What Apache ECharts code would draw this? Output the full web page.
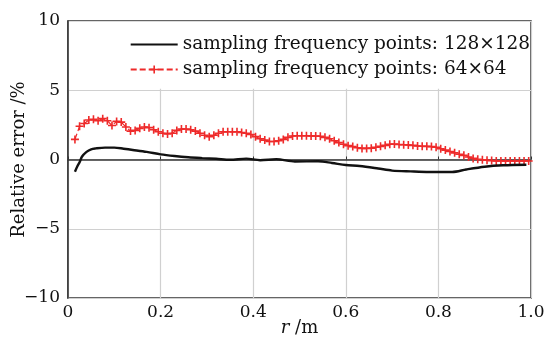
<!DOCTYPE html>
<html>
<head>
<meta charset="utf-8">
<script src="https://cdn.jsdelivr.net/npm/echarts@6/dist/echarts.min.js"></script>
<style>
  html, body { margin: 0; padding: 0; background: #fff; }
  #chart { width: 544px; height: 340px; }
</style>
</head>
<body>
<div id="chart"></div>
<script>
const seriesNames = ["sampling frequency points: 128×128", "sampling frequency points: 64×64"];

// 128x128 curve
const rBlack = [0.015, 0.02, 0.025, 0.03, 0.04, 0.05, 0.06, 0.08, 0.1, 0.12, 0.14, 0.17, 0.2, 0.23, 0.26, 0.29, 0.32, 0.35, 0.385, 0.415, 0.45, 0.49, 0.54, 0.57, 0.6, 0.63, 0.67, 0.7, 0.74, 0.78, 0.83, 0.86, 0.9, 0.94, 0.99];
const errBlack = [-0.88, -0.5, -0.2, 0.2, 0.55, 0.74, 0.8, 0.86, 0.86, 0.78, 0.69, 0.55, 0.37, 0.25, 0.16, 0.1, 0.05, -0.02, 0.06, -0.05, 0.02, -0.14, -0.13, -0.25, -0.4, -0.47, -0.65, -0.8, -0.86, -0.9, -0.9, -0.72, -0.52, -0.42, -0.38];

// 64x64 curve, one marker every 0.01 m
const rRed = [0.015, 0.025, 0.035, 0.045, 0.055, 0.065, 0.075, 0.085, 0.095, 0.105, 0.115, 0.125, 0.135, 0.145, 0.155, 0.165, 0.175, 0.185, 0.195, 0.205, 0.215, 0.225, 0.235, 0.245, 0.255, 0.265, 0.275, 0.285, 0.295, 0.305, 0.315, 0.325, 0.335, 0.345, 0.355, 0.365, 0.375, 0.385, 0.395, 0.405, 0.415, 0.425, 0.435, 0.445, 0.455, 0.465, 0.475, 0.485, 0.495, 0.505, 0.515, 0.525, 0.535, 0.545, 0.555, 0.565, 0.575, 0.585, 0.595, 0.605, 0.615, 0.625, 0.635, 0.645, 0.655, 0.665, 0.675, 0.685, 0.695, 0.705, 0.715, 0.725, 0.735, 0.745, 0.755, 0.765, 0.775, 0.785, 0.795, 0.805, 0.815, 0.825, 0.835, 0.845, 0.855, 0.865, 0.875, 0.885, 0.895, 0.905, 0.915, 0.925, 0.935, 0.945, 0.955, 0.965, 0.975, 0.985, 0.995];
const errRed = [1.45, 2.4, 2.6, 2.85, 2.9, 2.8, 2.95, 2.8, 2.45, 2.75, 2.7, 2.35, 2.05, 2.1, 2.25, 2.35, 2.3, 2.15, 2.0, 1.9, 1.85, 1.9, 2.1, 2.2, 2.2, 2.15, 2.05, 1.9, 1.75, 1.65, 1.75, 1.9, 2.0, 2.0, 2.0, 2.0, 1.95, 1.9, 1.8, 1.65, 1.5, 1.4, 1.3, 1.3, 1.35, 1.45, 1.6, 1.7, 1.72, 1.72, 1.72, 1.7, 1.7, 1.68, 1.6, 1.5, 1.35, 1.22, 1.1, 1.0, 0.93, 0.85, 0.8, 0.8, 0.82, 0.88, 0.95, 1.02, 1.1, 1.12, 1.08, 1.06, 1.05, 1.02, 0.98, 0.96, 0.95, 0.93, 0.88, 0.78, 0.68, 0.58, 0.48, 0.38, 0.3, 0.18, 0.08, 0.02, -0.02, -0.05, -0.08, -0.1, -0.11, -0.11, -0.11, -0.11, -0.11, -0.11, -0.11];

const xTicks = [0, 0.2, 0.4, 0.6, 0.8, 1.0];
const yTicks = [-10, -5, 0, 5, 10];

const serif = "'DejaVu Serif', 'Liberation Serif', serif";
const plus = "path://M4,0H6V4H10V6H6V10H4V6H0V4H4Z";

const chart = echarts.init(document.getElementById("chart"));
chart.setOption({
  animation: false,
  textStyle: { fontFamily: serif },
  grid: {
    left: 68, right: 13, top: 21, bottom: 42,
    outerBoundsMode: "none", containLabel: false,
    show: true, borderColor: "#333", borderWidth: 1.5
  },
  legend: {
    orient: "vertical",
    right: 12,
    top: 33,
    itemWidth: 47,
    itemHeight: 10,
    itemGap: 6,
    padding: [2, 2, 6, 4],
    textStyle: { fontFamily: serif, fontSize: 18.5, color: "#111" },
    data: [{ name: seriesNames[0], itemStyle: { opacity: 0 } }, { name: seriesNames[1] }]
  },
  xAxis: {
    type: "value",
    min: 0,
    max: 1,
    interval: 0.2,
    name: "{i|r} /m",
    nameLocation: "middle",
    nameGap: 21,
    nameMoveOverlap: false,
    nameTextStyle: {
      fontSize: 18, color: "#111",
      rich: { i: { fontStyle: "italic", fontSize: 18, fontFamily: serif, color: "#111" } }
    },
    axisLine: { lineStyle: { color: "#333", width: 1.5 } },
    axisTick: { inside: true, length: 3, lineStyle: { color: "#333" } },
    axisLabel: {
      fontSize: 17, color: "#111", margin: 6,
      formatter: (v) => (xTicks.includes(+v.toFixed(1)) ? (v === 0 ? "0" : v.toFixed(1)) : "")
    },
    splitLine: { show: true, lineStyle: { color: "#d0d0d0", width: 1.2 } }
  },
  yAxis: {
    type: "value",
    min: -10,
    max: 10,
    interval: 5,
    name: "Relative error /%",
    nameLocation: "middle",
    nameGap: 40,
    nameMoveOverlap: false,
    nameTextStyle: { fontSize: 18, color: "#111" },
    axisLine: { lineStyle: { color: "#333", width: 1.5 } },
    axisTick: { show: false },
    axisLabel: {
      fontSize: 17, color: "#111", margin: 8,
      formatter: (v) => (yTicks.includes(v) ? String(v).replace("-", "\u2212") : "")
    },
    splitLine: { show: true, lineStyle: { color: "#d0d0d0", width: 1.2 } }
  },
  series: [
    {
      name: seriesNames[0],
      type: "line",
      data: rBlack.map((r, i) => [r, errBlack[i]]),
      smooth: 0.3,
      showSymbol: false,
      symbol: "none",
      lineStyle: { color: "#111", width: 2.4 },
      itemStyle: { color: "#111" },
      // white legend box hides the grid lines in the top band
      markArea: {
        silent: true,
        itemStyle: { color: "#fff" },
        data: [[{ xAxis: 0.003, yAxis: 5.1 }, { xAxis: 0.997, yAxis: 9.95 }]]
      },
      z: 3
    },
    {
      name: seriesNames[1],
      type: "line",
      data: rRed.map((r, i) => [r, errRed[i]]),
      symbol: plus,
      symbolSize: 8,
      lineStyle: { color: "#ee2a2a", width: 1.2, type: [6, 3] },
      itemStyle: { color: "#ee2a2a" },
      z: 2
    }
  ]
});
</script>
</body>
</html>
